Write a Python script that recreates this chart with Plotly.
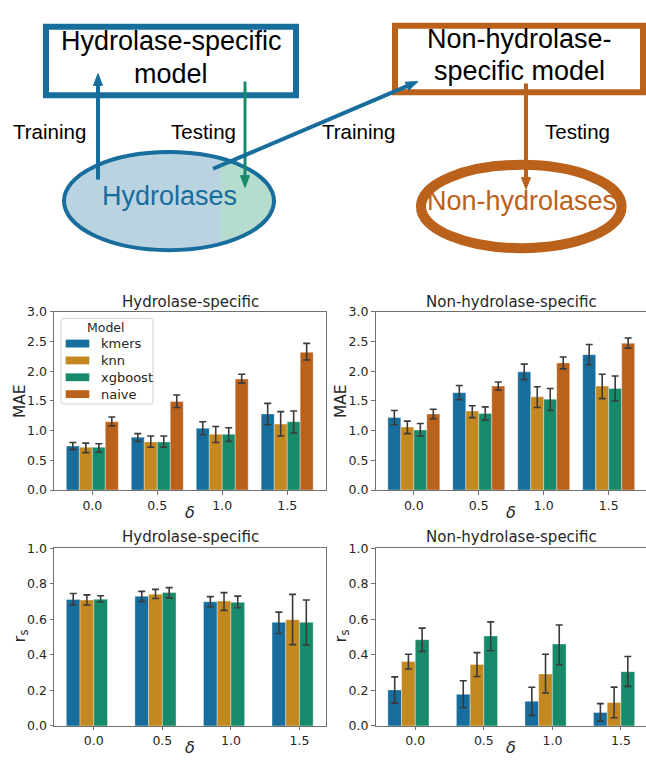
import numpy as np
import plotly.graph_objects as go

# ---------------- data ----------------
models = ["kmers", "knn", "xgboost", "naive"]
deltas = ["0.0", "0.5", "1.0", "1.5"]

# MAE, hydrolase-specific model (mean, lower CI, upper CI)
hyd_mae = {"kmers": [0.74, 0.89, 1.04, 1.28], "knn": [0.72, 0.81, 0.94, 1.11],
           "xgboost": [0.72, 0.81, 0.94, 1.15], "naive": [1.15, 1.49, 1.87, 2.32]}
hyd_mae_lo = {"kmers": [0.68, 0.82, 0.93, 1.10], "knn": [0.63, 0.72, 0.80, 0.91],
              "xgboost": [0.64, 0.72, 0.82, 0.96], "naive": [1.08, 1.39, 1.80, 2.19]}
hyd_mae_hi = {"kmers": [0.80, 0.95, 1.15, 1.46], "knn": [0.79, 0.91, 1.07, 1.32],
              "xgboost": [0.78, 0.91, 1.05, 1.33], "naive": [1.23, 1.60, 1.95, 2.47]}

# MAE, non-hydrolase-specific model
non_mae = {"kmers": [1.22, 1.64, 1.99, 2.28], "knn": [1.06, 1.33, 1.57, 1.75],
           "xgboost": [1.01, 1.29, 1.53, 1.71], "naive": [1.28, 1.75, 2.14, 2.47]}
non_mae_lo = {"kmers": [1.10, 1.52, 1.86, 2.11], "knn": [0.95, 1.22, 1.39, 1.54],
              "xgboost": [0.91, 1.18, 1.34, 1.50], "naive": [1.20, 1.68, 2.04, 2.39]}
non_mae_hi = {"kmers": [1.34, 1.76, 2.12, 2.45], "knn": [1.16, 1.42, 1.74, 1.95],
              "xgboost": [1.12, 1.40, 1.71, 1.92], "naive": [1.36, 1.82, 2.24, 2.56]}

# Spearman r_s, hydrolase-specific model
hyd_rs = {"kmers": [0.711, 0.730, 0.698, 0.583], "knn": [0.708, 0.741, 0.702, 0.597],
          "xgboost": [0.713, 0.750, 0.695, 0.583]}
hyd_rs_lo = {"kmers": [0.680, 0.700, 0.670, 0.520], "knn": [0.680, 0.717, 0.650, 0.457],
             "xgboost": [0.697, 0.720, 0.665, 0.455]}
hyd_rs_hi = {"kmers": [0.745, 0.757, 0.727, 0.640], "knn": [0.737, 0.768, 0.750, 0.740],
             "xgboost": [0.732, 0.778, 0.730, 0.708]}

# Spearman r_s, non-hydrolase-specific model
non_rs = {"kmers": [0.202, 0.178, 0.138, 0.075], "knn": [0.362, 0.346, 0.292, 0.132],
          "xgboost": [0.485, 0.506, 0.460, 0.305]}
non_rs_lo = {"kmers": [0.128, 0.103, 0.059, 0.026], "knn": [0.320, 0.278, 0.185, 0.046],
             "xgboost": [0.419, 0.423, 0.344, 0.222]}
non_rs_hi = {"kmers": [0.276, 0.254, 0.217, 0.125], "knn": [0.403, 0.412, 0.403, 0.218],
             "xgboost": [0.550, 0.585, 0.568, 0.390]}

colors = {"kmers": "#176d9c", "knn": "#c38820", "xgboost": "#168a6a", "naive": "#ba611b"}
BLUE, ORANGE, GREEN = colors["kmers"], colors["naive"], colors["xgboost"]

# ---------------- geometry helpers (pixel -> paper) ----------------
W, H = 646, 762


def X(px):
    return px / W


def Y(py):
    return 1 - py / H


fig = go.Figure()

LEFT = [X(54), X(325.5)]
RIGHT = [X(375.5), 1.0]
TOP = [Y(491.7), Y(310)]
BOT = [Y(732.3), Y(551)]

top_rng = [-0.59, 3.59]
bot_rng = [-0.58, 3.38]


def clipped(rng, full_px, shown_px):
    return [rng[0], rng[0] + (rng[1] - rng[0]) * shown_px / full_px]


panels = [
    ("x", "y", hyd_mae, hyd_mae_lo, hyd_mae_hi),
    ("x2", "y2", non_mae, non_mae_lo, non_mae_hi),
    ("x3", "y3", hyd_rs, hyd_rs_lo, hyd_rs_hi),
    ("x4", "y4", non_rs, non_rs_lo, non_rs_hi),
]

bar_w = 0.2
for xa, ya, val, lo, hi in panels:
    for i, m in enumerate(models):
        if m not in val:
            continue
        v = np.array(val[m])
        fig.add_trace(go.Bar(
            x=deltas, y=v, width=bar_w, offset=-0.4 + i * bar_w,
            marker=dict(color=colors[m], line=dict(color="rgba(255,255,255,0.45)", width=0.8)),
            error_y=dict(type="data", symmetric=False,
                         array=np.array(hi[m]) - v, arrayminus=v - np.array(lo[m]),
                         color="#3a3a3a", thickness=1.6, width=3.5),
            xaxis=xa, yaxis=ya, showlegend=False, name=m,
        ))

axis_style = dict(showline=True, linecolor="#707070", linewidth=1, ticks="outside",
                  ticklen=3.5, tickwidth=1, tickcolor="#707070", showgrid=False,
                  zeroline=False, fixedrange=True,
                  tickfont=dict(family="DejaVu Sans", size=12.5, color="#262626"))

fig.update_layout(
    width=W, height=H, margin=dict(l=0, r=0, t=0, b=0),
    paper_bgcolor="white", plot_bgcolor="white", barmode="overlay",
    xaxis=dict(domain=LEFT, anchor="y", type="category", range=top_rng, mirror=True, **axis_style),
    yaxis=dict(domain=TOP, anchor="x", range=[0, 3.0], dtick=0.5, tickformat=".1f", mirror=True, **axis_style),
    xaxis2=dict(domain=RIGHT, anchor="y2", type="category",
                range=clipped(top_rng, 271.5, 270.5), mirror=True, **axis_style),
    yaxis2=dict(domain=TOP, anchor="x2", range=[0, 3.0], dtick=0.5, tickformat=".1f", **axis_style),
    xaxis3=dict(domain=LEFT, anchor="y3", type="category", range=bot_rng, mirror=True, **axis_style),
    yaxis3=dict(domain=BOT, anchor="x3", range=[0, 1.0], dtick=0.2, tickformat=".1f", mirror=True, **axis_style),
    xaxis4=dict(domain=RIGHT, anchor="y4", type="category",
                range=clipped(bot_rng, 271.5, 270.5), mirror=True, **axis_style),
    yaxis4=dict(domain=BOT, anchor="x4", range=[0, 1.0], dtick=0.2, tickformat=".1f", **axis_style),
)

annotations = []
shapes = []
TXT = "#262626"
SANS = "Liberation Sans"


def label(text, px, py, size, color=TXT, family="DejaVu Sans", angle=0, xanchor="center",
          style="normal"):
    # nudge so the glyphs' visual centre lands on (px, py)
    lift = 0.2 * size if (family == SANS and angle == 0) else 0
    annotations.append(dict(text=text, x=X(px), y=Y(py - lift), xref="paper", yref="paper",
                            showarrow=False, xanchor=xanchor, yanchor="middle", textangle=angle,
                            font=dict(family=family, size=size, color=color, style=style)))


# panel titles and axis labels
for cx, cy, t in [(190, 300, "Hydrolase-specific"), (511, 300, "Non-hydrolase-specific"),
                  (190, 540, "Hydrolase-specific"), (511, 540, "Non-hydrolase-specific")]:
    label(t, cx, cy, 15)
for cx in (190, 511):
    label("δ", cx, 514.5, 16, style="italic")
    label("δ", cx, 754, 16, style="italic")
for lx in (20, 341):
    label("MAE", lx, 401, 15.5, angle=-90)
    label("r<sub>s</sub>", lx, 641, 16.5, angle=-90)

# legend in the first panel
shapes.append(dict(type="path", xref="paper", yref="paper",
                   path=" ".join([
                       f"M {X(64)},{Y(316.7)}", f"L {X(150)},{Y(316.7)}",
                       f"Q {X(153)},{Y(316.7)} {X(153)},{Y(319.7)}",
                       f"L {X(153)},{Y(401)}", f"Q {X(153)},{Y(404)} {X(150)},{Y(404)}",
                       f"L {X(64)},{Y(404)}", f"Q {X(61)},{Y(404)} {X(61)},{Y(401)}",
                       f"L {X(61)},{Y(319.7)}", f"Q {X(61)},{Y(316.7)} {X(64)},{Y(316.7)} Z"]),
                   fillcolor="rgba(255,255,255,0.8)", line=dict(color="#d0d0d0", width=1),
                   layer="above"))
label("Model", 106, 325.7, 12.5)
for i, m in enumerate(models):
    cy = 342.3 + i * 17.2
    shapes.append(dict(type="rect", xref="paper", yref="paper", x0=X(65.7), x1=X(89.3),
                       y0=Y(cy - 4), y1=Y(cy + 4), fillcolor=colors[m], line=dict(width=0),
                       layer="above"))
    label(m, 99.3, cy, 13, xanchor="left")

# ---------------- schematic ----------------
# light fill of the hydrolase set, right part marks the test split
ecx, ecy, erx, ery = 169, 197, 105, 50
shapes.append(dict(type="circle", xref="paper", yref="paper",
                   x0=X(ecx - erx), x1=X(ecx + erx), y0=Y(ecy + ery), y1=Y(ecy - ery),
                   fillcolor="#b9d3e1", line=dict(width=0)))
split = 221
a = np.arccos((split - ecx) / erx)
th = np.linspace(-a, a, 60)
pts = [(ecx + erx * np.cos(t), ecy + ery * np.sin(t)) for t in th]
seg = "M " + " L ".join(f"{X(px):.5f},{Y(py):.5f}" for px, py in pts) + " Z"
shapes.append(dict(type="path", xref="paper", yref="paper", path=seg,
                   fillcolor="#b5dccc", line=dict(width=0)))
shapes.append(dict(type="circle", xref="paper", yref="paper",
                   x0=X(ecx - erx), x1=X(ecx + erx), y0=Y(ecy + ery), y1=Y(ecy - ery),
                   line=dict(color=BLUE, width=4)))

# non-hydrolase set
ocx, ocy, orx, ory = 521.3, 202.5, 100.3, 42.5
shapes.append(dict(type="circle", xref="paper", yref="paper",
                   x0=X(ocx - orx), x1=X(ocx + orx), y0=Y(ocy + ory), y1=Y(ocy - ory),
                   line=dict(color=ORANGE, width=10)))

# model boxes
shapes.append(dict(type="rect", xref="paper", yref="paper", x0=X(46), x1=X(296),
                   y0=Y(89), y1=Y(19), line=dict(color=BLUE, width=6)))
shapes.append(dict(type="rect", xref="paper", yref="paper", x0=X(395), x1=X(643),
                   y0=Y(86), y1=Y(18), line=dict(color=ORANGE, width=6)))


def arrow(x0, y0, x1, y1, color, width, head_len=12, head_w=4.5):
    d = np.array([x1 - x0, y1 - y0], dtype=float)
    u = d / np.linalg.norm(d)
    n = np.array([-u[1], u[0]])
    base = np.array([x1, y1]) - head_len * u
    shapes.append(dict(type="line", xref="paper", yref="paper", x0=X(x0), y0=Y(y0),
                       x1=X(base[0]), y1=Y(base[1]), line=dict(color=color, width=width)))
    p1 = base + head_w * n
    p2 = base - head_w * n
    shapes.append(dict(type="path", xref="paper", yref="paper",
                       path=f"M {X(x1)},{Y(y1)} L {X(p1[0])},{Y(p1[1])} L {X(p2[0])},{Y(p2[1])} Z",
                       fillcolor=color, line=dict(color=color, width=1)))


arrow(98, 175, 98, 67, BLUE, 4)
arrow(245, 75, 245, 183, GREEN, 3)
arrow(213, 164, 418, 75, BLUE, 4)
arrow(526, 77, 526, 185, ORANGE, 4)

label("Hydrolase-specific", 171, 39, 27, color="black", family=SANS)
label("model", 171, 73, 27, color="black", family=SANS)
label("Non-hydrolase-", 519, 37, 27, color="black", family=SANS)
label("specific model", 519, 70, 27, color="black", family=SANS)
label("Training", 49, 130, 20.5, color="black", family=SANS)
label("Testing", 203, 130, 20.5, color="black", family=SANS)
label("Training", 358, 130, 20.5, color="black", family=SANS)
label("Testing", 577, 130, 20.5, color="black", family=SANS)
label("Hydrolases", 169, 197, 27, color=BLUE, family=SANS)
label("Non-hydrolases", 521, 202, 27, color=ORANGE, family=SANS)

fig.update_layout(annotations=annotations, shapes=shapes)
fig.write_html("out.html")
